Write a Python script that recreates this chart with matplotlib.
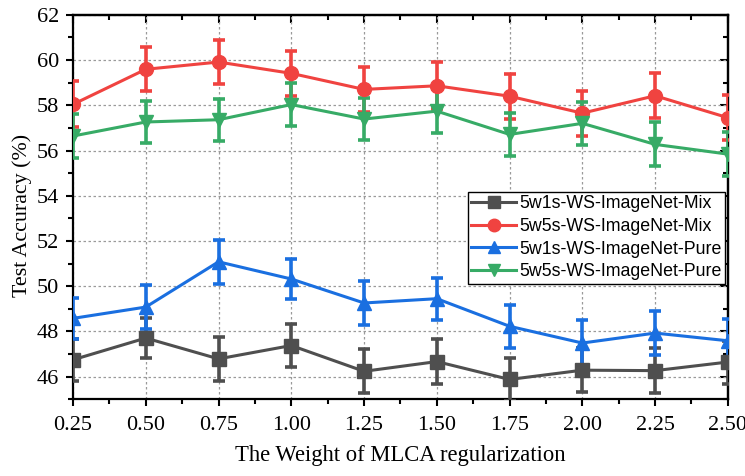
import numpy as np
import matplotlib
matplotlib.use("Agg")
import matplotlib.pyplot as plt
from matplotlib.ticker import MultipleLocator, FormatStrFormatter

# data
weights = [0.25, 0.50, 0.75, 1.00, 1.25, 1.50, 1.75, 2.00, 2.25, 2.50]

mix_1shot = [46.75, 47.71, 46.79, 47.38, 46.24, 46.67, 45.88, 46.29, 46.27, 46.65]
mix_1shot_err = [0.93, 0.90, 0.96, 0.96, 0.98, 0.98, 0.97, 0.98, 0.98, 0.95]

mix_5shot = [58.04, 59.59, 59.91, 59.41, 58.70, 58.86, 58.40, 57.65, 58.42, 57.45]
mix_5shot_err = [1.01, 0.98, 0.97, 1.00, 0.99, 1.03, 0.99, 1.00, 1.00, 1.00]

pure_1shot = [48.58, 49.08, 51.08, 50.32, 49.26, 49.45, 48.23, 47.49, 47.93, 47.59]
pure_1shot_err = [0.90, 0.98, 0.97, 0.90, 0.98, 0.92, 0.96, 1.00, 0.98, 0.97]

pure_5shot = [56.64, 57.26, 57.36, 58.03, 57.39, 57.74, 56.71, 57.20, 56.27, 55.84]
pure_5shot_err = [0.96, 0.94, 0.93, 0.95, 0.94, 0.97, 0.96, 0.94, 0.97, 0.98]

labels = ["5w1s-WS-ImageNet-Mix", "5w5s-WS-ImageNet-Mix",
          "5w1s-WS-ImageNet-Pure", "5w5s-WS-ImageNet-Pure"]
colors = ["#4f4f4f", "#f04340", "#1a6fe0", "#37ab66"]
markers = ["s", "o", "^", "v"]

plt.rcParams['font.family'] = ['Liberation Serif', 'DejaVu Serif']

fig = plt.figure(figsize=(7.45, 4.76), dpi=100)
ax = fig.add_axes([0.098, 0.161, 0.879, 0.808])

series = [(mix_1shot, mix_1shot_err), (mix_5shot, mix_5shot_err),
          (pure_1shot, pure_1shot_err), (pure_5shot, pure_5shot_err)]

handles = []
for (vals, errs), lab, c, m in zip(series, labels, colors, markers):
    ax.errorbar(weights, vals, yerr=errs, fmt='none', ecolor=c,
                elinewidth=2.6, capsize=4.5, capthick=2.6, zorder=3)
    h, = ax.plot(weights, vals, color=c, marker=m, markersize=10, linewidth=2.2,
                 label=lab, zorder=4)
    handles.append(h)

ax.set_xlim(0.25, 2.50)
ax.set_ylim(45, 62)
ax.xaxis.set_major_locator(MultipleLocator(0.25))
ax.xaxis.set_minor_locator(MultipleLocator(0.125))
ax.xaxis.set_major_formatter(FormatStrFormatter('%.2f'))
ax.set_yticks([46, 48, 50, 52, 54, 56, 58, 60, 62])
ax.yaxis.set_minor_locator(MultipleLocator(1))

ax.grid(True, which='major', color='#9a9a9a', linestyle=(0, (2, 2)), linewidth=0.9)
ax.set_axisbelow(True)

ax.tick_params(which='both', direction='out', labelsize=16, width=1.5)
ax.tick_params(which='major', length=5)
ax.tick_params(which='minor', length=3.5)
ax.tick_params(axis='x', pad=7)
ax.tick_params(axis='y', pad=5)
for sp in ax.spines.values():
    sp.set_linewidth(1.6)

# mirrored ticks on top and right, pointing in
top = ax.secondary_xaxis('top')
top.xaxis.set_major_locator(MultipleLocator(0.25))
top.xaxis.set_minor_locator(MultipleLocator(0.125))
top.tick_params(which='both', direction='in', labeltop=False, width=1.5)
top.tick_params(which='major', length=6)
top.tick_params(which='minor', length=3.5)
top.spines['top'].set_linewidth(1.6)

right = ax.secondary_yaxis('right')
right.set_yticks([46, 48, 50, 52, 54, 56, 58, 60, 62])
right.yaxis.set_minor_locator(MultipleLocator(1))
right.tick_params(which='both', direction='in', labelright=False, width=1.5)
right.tick_params(which='major', length=6)
right.tick_params(which='minor', length=3.5)
right.spines['right'].set_linewidth(1.6)

ax.set_xlabel('The Weight of MLCA regularization', fontsize=16.3, labelpad=7)
ax.set_ylabel('Test Accuracy (%)', fontsize=15.8)
ax.yaxis.set_label_coords(-0.063, 0.478)

leg = ax.legend(handles=handles, loc='upper right', bbox_to_anchor=(0.996, 0.54),
                borderaxespad=0, fancybox=False, framealpha=1, edgecolor='black',
                prop={'family': 'Liberation Sans', 'size': 12.8},
                handlelength=2.5, handletextpad=0.2, borderpad=0.2,
                labelspacing=0.32, markerscale=0.9)
leg.get_frame().set_linewidth(1.0)
leg.set_zorder(10)

fig.savefig('out.png', dpi=100)
